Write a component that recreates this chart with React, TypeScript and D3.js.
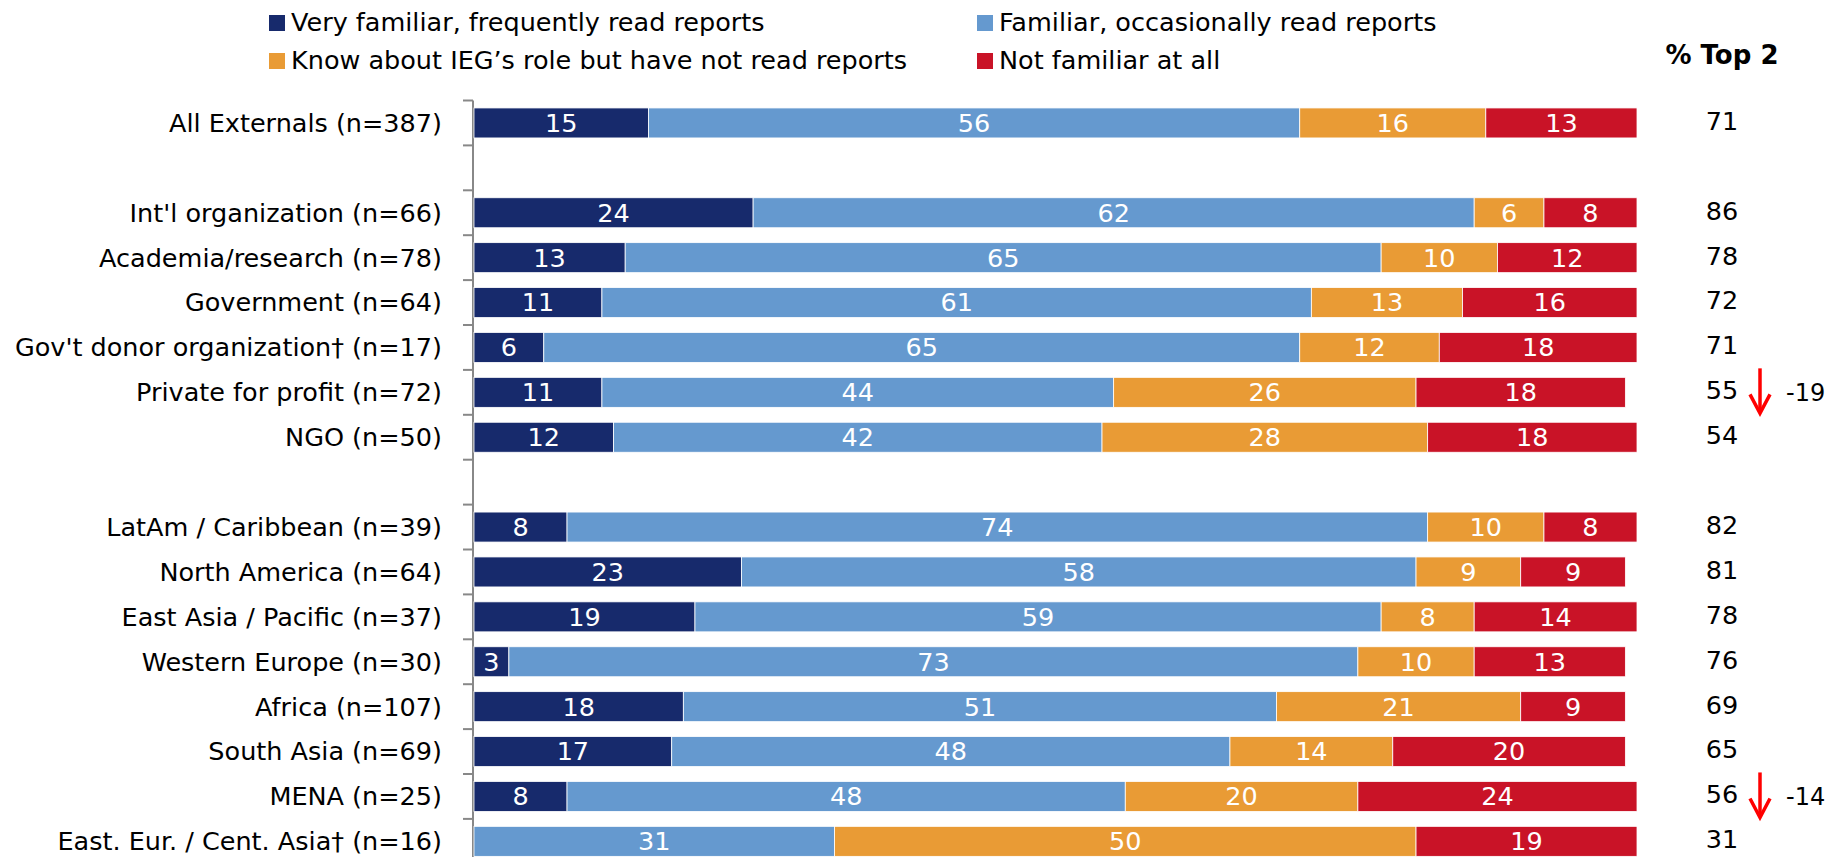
import React from 'react';
import * as d3 from 'd3';

// rows of the chart, top to bottom (gaps are added after rows 0 and 6)
const categories = [
  'All Externals (n=387)',
  "Int'l organization (n=66)",
  'Academia/research (n=78)',
  'Government (n=64)',
  "Gov't donor organization† (n=17)",
  'Private for profit (n=72)',
  'NGO (n=50)',
  'LatAm / Caribbean (n=39)',
  'North America (n=64)',
  'East Asia / Pacific (n=37)',
  'Western Europe (n=30)',
  'Africa (n=107)',
  'South Asia (n=69)',
  'MENA (n=25)',
  'East. Eur. / Cent. Asia† (n=16)',
];
const gapsAfter = [0, 6];

const veryFamiliar = [15, 24, 13, 11, 6, 11, 12, 8, 23, 19, 3, 18, 17, 8, 0];
const familiar = [56, 62, 65, 61, 65, 44, 42, 74, 58, 59, 73, 51, 48, 48, 31];
const knowAbout = [16, 6, 10, 13, 12, 26, 28, 10, 9, 8, 10, 21, 14, 20, 50];
const notFamiliar = [13, 8, 12, 16, 18, 18, 18, 8, 9, 14, 13, 9, 20, 24, 19];
const top2 = [71, 86, 78, 72, 71, 55, 54, 82, 81, 78, 76, 69, 65, 56, 31];
const change = [null, null, null, null, null, -19, null, null, null, null, null, null, null, -14, null];

const seriesNames = [
  'Very familiar, frequently read reports',
  'Familiar, occasionally read reports',
  'Know about IEG’s role but have not read reports',
  'Not familiar at all',
];
const seriesColors = ['#172a6c', '#6599cf', '#e99b35', '#c91327'];

const W = 1825;
const H = 857;
const FONT = '"DejaVu Sans", Verdana, sans-serif';
const FS = 25.5;

export default function App() {
  const series = [veryFamiliar, familiar, knowAbout, notFamiliar];

  // slot keys including blank gaps
  const slots: string[] = [];
  const slotOfRow: number[] = [];
  categories.forEach((c, i) => {
    slotOfRow.push(slots.length);
    slots.push('r' + i);
    if (gapsAfter.includes(i)) slots.push('gap' + i);
  });

  const x = d3.scaleLinear().domain([0, 100]).range([474, 1637]).clamp(true);
  const y0 = 100.5;
  const step = 44.9;
  const pad = 0.332;
  const y = d3
    .scaleBand()
    .domain(slots)
    .range([y0, y0 + step * slots.length])
    .paddingInner(pad)
    .paddingOuter(pad / 2);

  const axisX = 473;

  return (
    <svg
      width={W}
      height={H}
      style={{ position: 'absolute', left: 0, top: 0, background: '#fff' }}
      fontFamily={FONT}
    >
      {/* legend */}
      {seriesNames.map((name, i) => {
        const col = i % 2;
        const row = Math.floor(i / 2);
        const lx = col === 0 ? 269 : 977;
        const ly = row === 0 ? 23 : 61;
        return (
          <g key={name}>
            <rect x={lx} y={ly - 8} width={16} height={16} fill={seriesColors[i]} />
            <text x={lx + 22} y={ly - 1} dy="0.35em" fontSize={FS} fill="#000">
              {name}
            </text>
          </g>
        );
      })}
      <text x={1722} y={55} dy="0.35em" fontSize={26} fontWeight="bold" textAnchor="middle" fill="#000">
        % Top 2
      </text>

      {/* y axis */}
      <line x1={axisX} x2={axisX} y1={y0} y2={H} stroke="#888" strokeWidth={2} />
      {d3.range(slots.length + 1).map((k) => (
        <line
          key={'t' + k}
          x1={axisX - 10}
          x2={axisX}
          y1={y0 + k * step}
          y2={y0 + k * step}
          stroke="#888"
          strokeWidth={2}
        />
      ))}

      {categories.map((cat, i) => {
        const key = slots[slotOfRow[i]];
        const by = y(key) as number;
        const bh = y.bandwidth();
        const cy = by + bh / 2;
        let acc = 0;
        return (
          <g key={cat}>
            <text x={442} y={cy} dy="0.35em" textAnchor="end" fontSize={FS} fill="#000">
              {cat}
            </text>
            {series.map((s, j) => {
              const v = s[i];
              const a = acc;
              acc += v;
              if (!v) return null;
              const x0 = x(a);
              const x1 = x(a + v);
              return (
                <g key={j}>
                  <rect
                    x={x0}
                    y={by}
                    width={x1 - x0}
                    height={bh}
                    fill={seriesColors[j]}
                    stroke="#fff"
                    strokeWidth={0.8}
                  />
                  <text
                    x={(x0 + x1) / 2}
                    y={cy}
                    dy="0.35em"
                    textAnchor="middle"
                    fontSize={FS}
                    fill="#fff"
                  >
                    {v}
                  </text>
                </g>
              );
            })}
            <text x={1722} y={cy - 2} dy="0.35em" textAnchor="middle" fontSize={FS} fill="#000">
              {top2[i]}
            </text>
            {change[i] != null && (
              <g>
                <line x1={1760} x2={1760} y1={cy - 24} y2={cy + 19} stroke="#ff0000" strokeWidth={3.5} />
                <path
                  d={`M${1750},${cy + 2} L1760,${cy + 21} L1770,${cy + 2}`}
                  fill="none"
                  stroke="#ff0000"
                  strokeWidth={3.5}
                />
                <text x={1786} y={cy} dy="0.35em" fontSize={24} fill="#000">
                  {change[i]}
                </text>
              </g>
            )}
          </g>
        );
      })}
    </svg>
  );
}
